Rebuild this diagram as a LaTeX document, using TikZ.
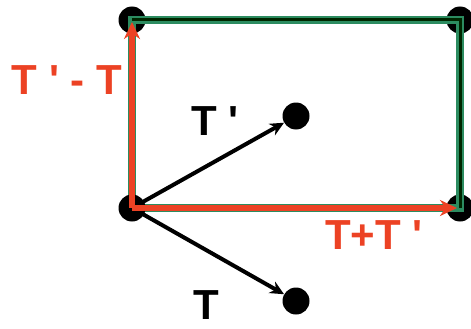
\documentclass[tikz,border=0pt]{standalone}
\usepackage{fontspec}
\setmainfont{Liberation Sans}
\usetikzlibrary{arrows.meta}
\definecolor{vecred}{RGB}{236,66,36}
\definecolor{boxgreen}{RGB}{44,140,96}

\begin{document}
\begin{tikzpicture}[
    >=Stealth, x=1pt, y=-1pt,
    dot/.style={circle, fill=black, inner sep=0pt, minimum size=27pt},
    lbl/.style={font=\fontsize{42}{42}\selectfont\bfseries, inner sep=0pt},
    vec/.style={line width=4pt, -{Stealth[length=14pt, width=13pt]}},
    redvec/.style={line width=5.5pt, vecred, -{Stealth[length=17pt, width=16pt]}}
  ]
  \useasboundingbox (0,0) rectangle (471,329);

  % corners and end points
  \coordinate (o) at (132,208);
  \node[dot] (tl) at (132,20) {};
  \node[dot] (tr) at (460,20) {};
  \node[dot] (br) at (460,208) {};
  \node[dot] (tp) at (296,116) {};
  \node[dot] (t)  at (296,301) {};

  % the box
  \draw[boxgreen, line width=8pt] (o) -- (tl.center) -- (tr.center)
       -- (br.center) -- cycle;
  \draw[black!85!green, line width=3pt] (tl.center) -- (tr.center) -- (br.center);

  \draw[vec] (o) -- (tp);
  \draw[vec] (o) -- (t);
  \node[dot] (od) at (o) {};

  \draw[redvec] (od.center) -- ([yshift=-2pt]tl.center);
  \draw[redvec] (od.center) -- ([xshift=-3pt]br.center);

  \node[lbl, vecred] (diff) at (67,80) {T \textquotesingle\ - T};
  \node[lbl] (tpl) at (215,121) {T \textquotesingle};
  \node[lbl, vecred] (sum) at (374,235) {T+T \textquotesingle};
  \node[lbl] (tl2) at (206,305) {T};
\end{tikzpicture}
\end{document}
